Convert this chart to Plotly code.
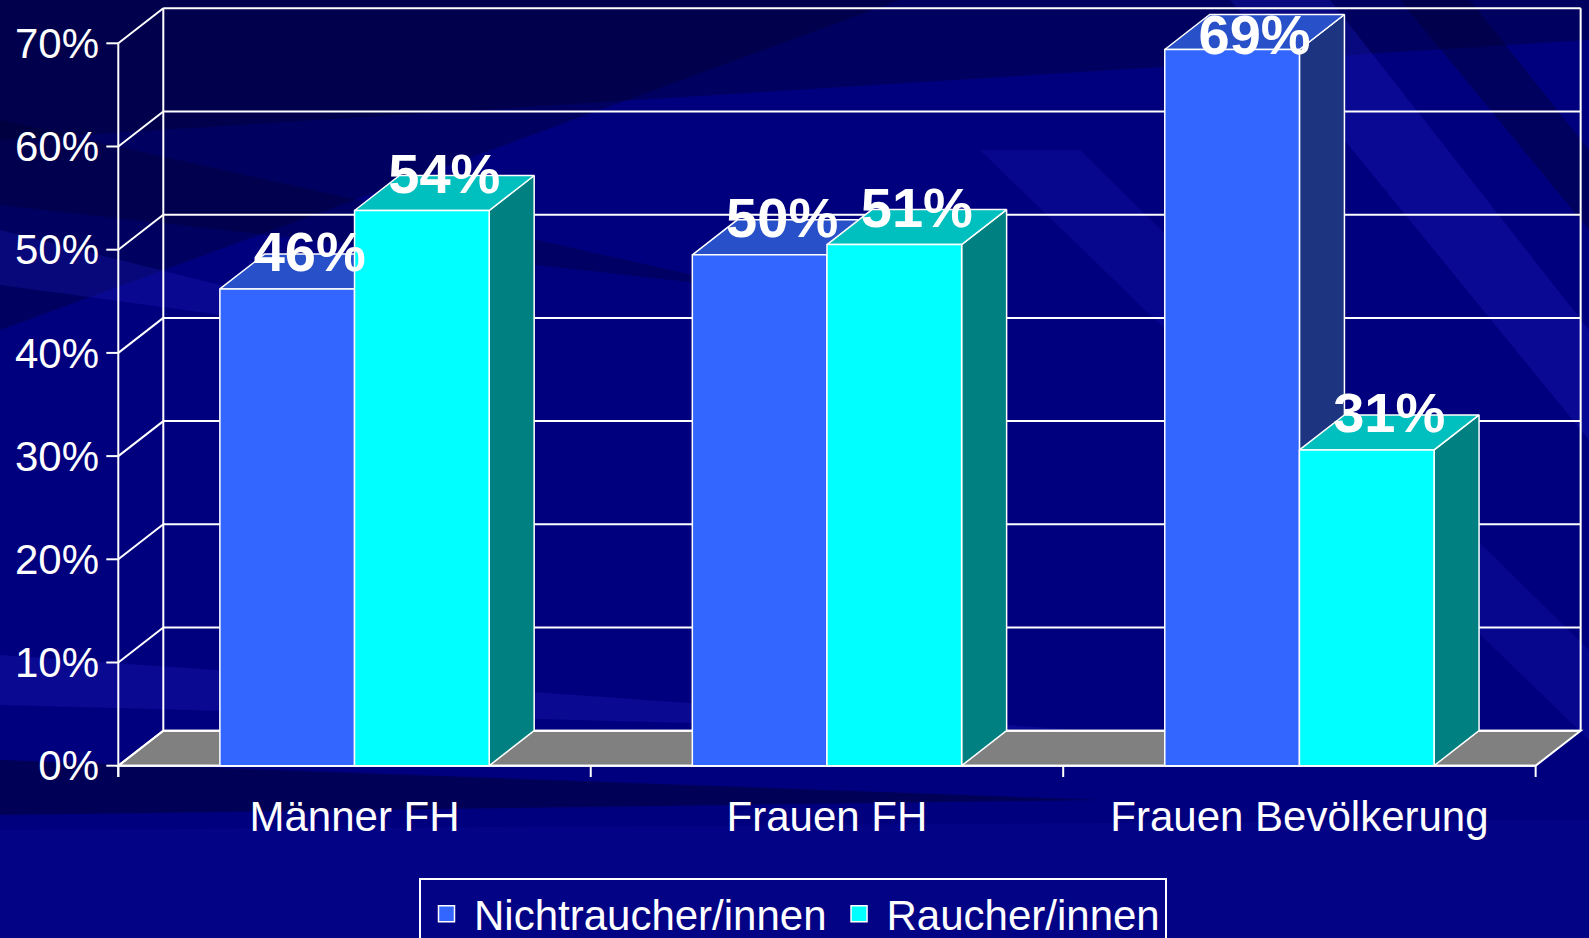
import plotly.graph_objects as go

# ---------------- data ----------------
categories = ["Männer FH", "Frauen FH", "Frauen Bevölkerung"]
series_names = ["Nichtraucher/innen", "Raucher/innen"]
nicht_values = [46.2, 49.5, 69.4]
raucher_values = [53.8, 50.5, 30.6]
nicht_labels = ["46%", "50%", "69%"]
raucher_labels = ["54%", "51%", "31%"]
y_ticks = [0, 10, 20, 30, 40, 50, 60, 70]
y_tick_text = ["0%", "10%", "20%", "30%", "40%", "50%", "60%", "70%"]

# ---------------- geometry / style ----------------
W, H = 1589, 938
PX_X = 472.45          # pixels per category unit
PX_Y = 10.32           # pixels per percent
AXIS_X_PX = 118.3
ZERO_Y_PX = 765.7
L, R, T = 106, 4, 0
PLOT_BOTTOM_PX = 777
B = H - PLOT_BOTTOM_PX
PLOT_W = W - L - R
PLOT_H = PLOT_BOTTOM_PX - T

x_min = -0.5 - (AXIS_X_PX - L) / PX_X
x_max = -0.5 + (W - R - AXIS_X_PX) / PX_X
y_min = -(PLOT_BOTTOM_PX - ZERO_Y_PX) / PX_Y
y_max = (ZERO_Y_PX - T) / PX_Y

DX = 45 / PX_X
DY = 35 / PX_Y
BAR_W = 0.285
TICK_X = 12 / PX_X
TICK_Y = 12 / PX_Y
X_LEFT, X_RIGHT = -0.5, len(categories) - 0.5
Y_TOP = y_ticks[-1]
LABEL_DROP = 0.3                 # labels sit slightly below the back edge of the top face
LABEL_Y_MAX = Y_TOP + 0.3        # keep the tallest label inside the chart

FONT = "Arial, Liberation Sans, sans-serif"
FS = 42
LINE = "#FFFFFF"

C_N_FRONT, C_N_TOP, C_N_SIDE = "#3366FF", "#2850C8", "#1D3480"
C_R_FRONT, C_R_TOP, C_R_SIDE = "#00FFFF", "#00BFBF", "#008080"
C_FLOOR = "#808080"


def px2paper(px, py):
    return (px - L) / PLOT_W, (PLOT_BOTTOM_PX - py) / PLOT_H


def faces(values, offset):
    tx, ty, sx, sy = [], [], [], []
    for i, v in enumerate(values):
        x0 = i + offset
        x1 = x0 + BAR_W
        tx += [x0, x1, x1 + DX, x0 + DX, x0, None]
        ty += [v, v, v + DY, v + DY, v, None]
        sx += [x1, x1 + DX, x1 + DX, x1, x1, None]
        sy += [0, DY, v + DY, v, 0, None]
    return tx, ty, sx, sy


fig = go.Figure()

# 3D faces (main layer, below the front bars)
for vals, off, ctop, cside in [(nicht_values, -BAR_W, C_N_TOP, C_N_SIDE),
                                (raucher_values, 0.0, C_R_TOP, C_R_SIDE)]:
    tx, ty, sx, sy = faces(vals, off)
    fig.add_trace(go.Scatter(x=sx, y=sy, mode="lines", fill="toself", fillcolor=cside,
                             line=dict(color=LINE, width=1.5), hoverinfo="skip", showlegend=False))
    fig.add_trace(go.Scatter(x=tx, y=ty, mode="lines", fill="toself", fillcolor=ctop,
                             line=dict(color=LINE, width=1.5), hoverinfo="skip", showlegend=False))

# front faces: bars (overlay axis, drawn above the faces)
x_idx = list(range(len(categories)))
fig.add_trace(go.Bar(x=x_idx, y=nicht_values, width=BAR_W, offset=-BAR_W, name=series_names[0],
                     marker=dict(color=C_N_FRONT, line=dict(color=LINE, width=1.5)), yaxis="y2",
                     showlegend=False, legendgroup="n"))
fig.add_trace(go.Bar(x=x_idx, y=raucher_values, width=BAR_W, offset=0, name=series_names[1],
                     marker=dict(color=C_R_FRONT, line=dict(color=LINE, width=1.5)), yaxis="y2",
                     showlegend=False, legendgroup="r"))

# legend entries (square swatches)
for name, col, grp in [(series_names[0], C_N_FRONT, "n"), (series_names[1], C_R_FRONT, "r")]:
    fig.add_trace(go.Scatter(x=[None], y=[None], mode="markers", name=name, legendgroup=grp,
                             marker=dict(symbol="square", size=26, color=col,
                                         line=dict(color=LINE, width=1.5)), yaxis="y2"))

# value labels
fig.add_trace(go.Scatter(
    x=[i - BAR_W / 2 + DX / 2 for i in x_idx] + [i + BAR_W / 2 + DX / 2 for i in x_idx],
    y=[min(v + DY - LABEL_DROP, LABEL_Y_MAX) for v in nicht_values + raucher_values],
    text=nicht_labels + raucher_labels, mode="text", textposition="middle center",
    textfont=dict(family=FONT, size=56, color="white", weight="bold"),
    yaxis="y2", showlegend=False, hoverinfo="skip", cliponaxis=False))

shapes = []

# background streaks (paper coordinates from pixel polygons)
bg_polys = [
    ([(0, 0), (1589, 0), (1589, 40), (0, 140)], "rgba(0,0,40,0.35)"),
    ([(0, 0), (900, 0), (0, 330)], "rgba(0,0,40,0.35)"),
    ([(0, 120), (760, 290), (0, 205)], "rgba(0,0,40,0.30)"),
    ([(0, 230), (480, 350), (0, 285)], "rgba(30,30,200,0.25)"),
    ([(0, 655), (1150, 735), (0, 705)], "rgba(30,30,190,0.30)"),
    ([(0, 760), (1100, 800), (0, 815)], "rgba(0,0,45,0.50)"),
    ([(1230, 0), (1330, 0), (1589, 330), (1589, 440)], "rgba(30,30,200,0.30)"),
    ([(1400, 0), (1470, 0), (1589, 150), (1589, 230)], "rgba(0,0,50,0.40)"),
    ([(980, 150), (1080, 150), (1589, 650), (1589, 740)], "rgba(30,30,200,0.22)"),
    ([(0, 830), (1589, 820), (1589, 938), (0, 938)], "rgba(10,10,160,0.25)"),
]
for poly, col in bg_polys:
    pts = [px2paper(px, py) for px, py in poly]
    path = "M " + " L ".join(f"{a:.4f},{b:.4f}" for a, b in pts) + " Z"
    shapes.append(dict(type="path", xref="paper", yref="paper", path=path,
                       fillcolor=col, line=dict(width=0), layer="below"))

# floor
floor = (f"M {X_LEFT},0 L {X_RIGHT},0 L {X_RIGHT + DX},{DY} "
         f"L {X_LEFT + DX},{DY} Z")
shapes.append(dict(type="path", xref="x", yref="y", path=floor, fillcolor=C_FLOOR,
                   line=dict(color=LINE, width=2), layer="below"))

# walls: gridlines on back wall and diagonals on side wall
for v in y_ticks:
    shapes.append(dict(type="line", xref="x", yref="y", x0=X_LEFT, y0=v, x1=X_LEFT + DX, y1=v + DY,
                       line=dict(color=LINE, width=2), layer="below"))
    shapes.append(dict(type="line", xref="x", yref="y", x0=X_LEFT + DX, y0=v + DY, x1=X_RIGHT + DX,
                       y1=v + DY, line=dict(color=LINE, width=2), layer="below"))
    shapes.append(dict(type="line", xref="x", yref="y", x0=X_LEFT - TICK_X, y0=v, x1=X_LEFT, y1=v,
                       line=dict(color=LINE, width=2), layer="below"))
for xv in [X_LEFT + DX, X_RIGHT + DX]:
    shapes.append(dict(type="line", xref="x", yref="y", x0=xv, y0=DY, x1=xv, y1=Y_TOP + DY,
                       line=dict(color=LINE, width=2), layer="below"))
# front axes
shapes.append(dict(type="line", xref="x", yref="y", x0=X_LEFT, y0=-TICK_Y, x1=X_LEFT, y1=Y_TOP,
                   line=dict(color=LINE, width=2), layer="below"))
shapes.append(dict(type="line", xref="x", yref="y", x0=X_LEFT, y0=0, x1=X_RIGHT, y1=0,
                   line=dict(color=LINE, width=2), layer="below"))
for k in range(len(categories) + 1):
    xv = X_LEFT + k
    shapes.append(dict(type="line", xref="x", yref="y", x0=xv, y0=-TICK_Y, x1=xv, y1=0,
                       line=dict(color=LINE, width=2), layer="below"))

lx, ly = px2paper((416 + 1170) / 2, 878)

fig.update_layout(
    width=W, height=H,
    margin=dict(l=L, r=R, t=T, b=B, autoexpand=False),
    paper_bgcolor="#00007E", plot_bgcolor="rgba(0,0,0,0)",
    barmode="overlay",
    shapes=shapes,
    font=dict(family=FONT, color="white", size=FS),
    xaxis=dict(range=[x_min, x_max], tickvals=x_idx, ticktext=categories, showgrid=False,
               zeroline=False, showline=False, ticks="", ticklabelstandoff=11,
               tickfont=dict(size=FS, color="white", family=FONT), fixedrange=True),
    yaxis=dict(range=[y_min, y_max], tickvals=y_ticks, ticktext=y_tick_text, showgrid=False,
               zeroline=False, showline=False, ticks="", ticklabelstandoff=6,
               tickfont=dict(size=FS, color="white", family=FONT), fixedrange=True),
    yaxis2=dict(overlaying="y", matches="y", visible=False, range=[y_min, y_max]),
    legend=dict(orientation="h", x=lx, y=ly, xanchor="center", yanchor="top",
                bordercolor="white", borderwidth=2, bgcolor="rgba(0,0,0,0)",
                itemwidth=45, font=dict(size=FS, color="white", family=FONT)),
)

fig.write_html("out.html", config={"displayModeBar": False},
               post_script="document.body.style.margin='0px';document.body.style.overflow='hidden';")
